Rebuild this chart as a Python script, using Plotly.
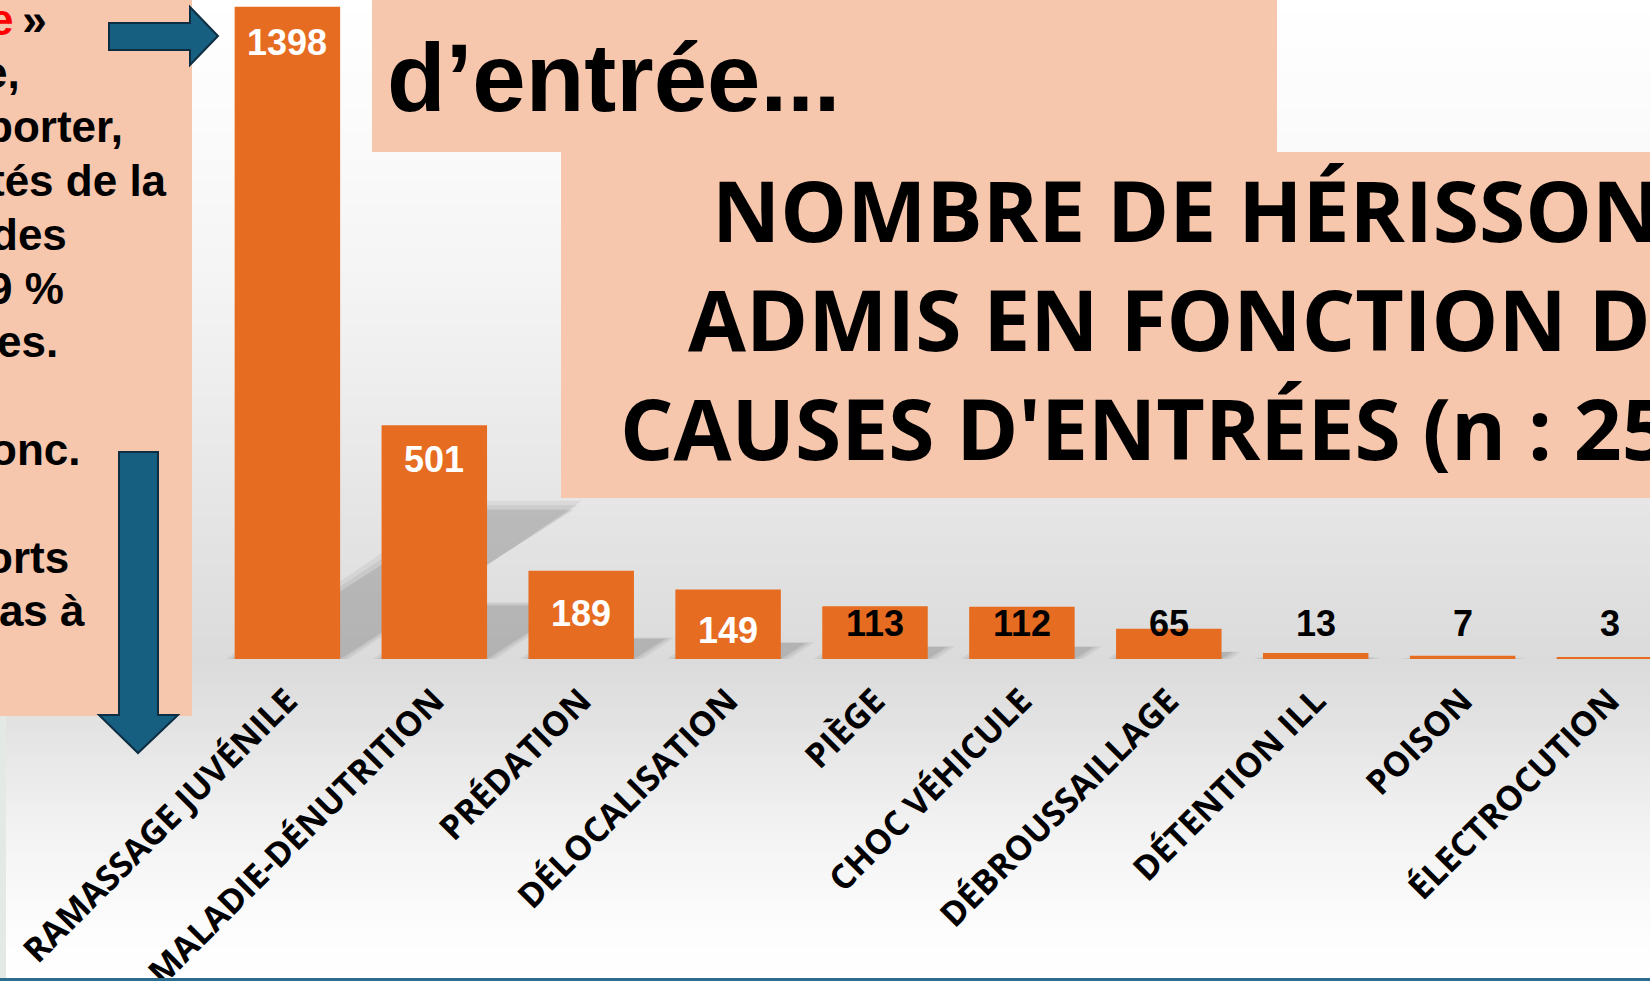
import plotly.graph_objects as go

# ---------------- data ----------------
categories = ["RAMASSAGE JUVÉNILE", "MALADIE-DÉNUTRITION", "PRÉDATION", "DÉLOCALISATION",
              "PIÈGE", "CHOC VÉHICULE", "DÉBROUSSAILLAGE", "DÉTENTION ILL", "POISON",
              "ÉLECTROCUTION"]
values = [1398, 501, 189, 149, 113, 112, 65, 13, 7, 3]

left_text_lines = ['<span style="color:#FF0000">e</span>\u2009»', "e,", "porter,", "tés de la",
                   "des", "9 %", "es.", "", "onc.", "", "orts", "pas à"]
title_top = "d’entrée..."
title_lines = ["NOMBRE DE HÉRISSONS", "ADMIS EN FONCTION DES",
               "CAUSES D'ENTRÉES (n : {})".format(sum(values))]

# ---------------- styling / geometry ----------------
left_text_x = [-13, -19, -16, -12, -11, -14, -5, 0, -12, 0, -16, -30]
inside_label_shift = [-36, -34, -43, -41]

W, H = 1650, 981
PLOT_H = 659          # plot area from y=0 to baseline (pixels)
PX_PER_CAT = 146.9
FIRST_CENTER = 287.4
Y_MAX = 1412.6


def pxx(x):
    return x / W


def pyy(y):
    return (PLOT_H - y) / PLOT_H


def gray(v):
    v = int(round(v))
    return "rgb({0},{0},{0})".format(v)


shapes = []

# background vertical gradient
stops = [(0, 255), (150, 250), (300, 243), (450, 233), (600, 223), (660, 219),
         (720, 226), (820, 241), (920, 252), (981, 255)]
step = 6
y = 0
while y < H:
    yc = y + step / 2
    for (a, ga), (b, gb) in zip(stops[:-1], stops[1:]):
        if a <= yc <= b:
            g = ga + (gb - ga) * (yc - a) / (b - a)
            break
    shapes.append(dict(type="rect", xref="paper", yref="paper", layer="below",
                       x0=pxx(0), x1=pxx(W), y0=pyy(y), y1=pyy(min(y + step + 1, H)),
                       fillcolor=gray(g), line=dict(width=0)))
    y += step

# bar shadows (perspective, upper right), derived from values
K = 0.229
SHEAR = 1.56
BAR_W = 0.718
for i, v in enumerate(values):
    h = K * v
    s = SHEAR * h * 0.4665 / PX_PER_CAT
    x0, x1 = i - BAR_W / 2, i + BAR_W / 2
    for grow, op in [(0.06, 0.07), (0.03, 0.08), (0.0, 0.12)]:
        path = "M {a},0 L {b},0 L {c},{t} L {d},{t} Z".format(
            a=x0 - grow, b=x1 + grow, c=x1 + s + grow, d=x0 + s - grow, t=h * (1 + grow))
        shapes.append(dict(type="path", xref="x", yref="y", layer="below", path=path,
                           fillcolor="rgba(60,60,60,{})".format(op), line=dict(width=0)))

SALMON = "#F6C6AD"
# left text box
shapes.append(dict(type="rect", xref="paper", yref="paper", layer="above",
                   x0=pxx(0), x1=pxx(192), y0=pyy(0), y1=pyy(716),
                   fillcolor=SALMON, line=dict(width=0)))
# left thin strip below box
shapes.append(dict(type="rect", xref="paper", yref="paper", layer="above",
                   x0=pxx(0), x1=pxx(6), y0=pyy(716), y1=pyy(978),
                   fillcolor="#E4E9E5", line=dict(width=0)))
# title boxes
shapes.append(dict(type="rect", xref="paper", yref="paper", layer="above",
                   x0=pxx(372), x1=pxx(1277), y0=pyy(0), y1=pyy(152),
                   fillcolor=SALMON, line=dict(width=0)))
shapes.append(dict(type="rect", xref="paper", yref="paper", layer="above",
                   x0=pxx(561), x1=pxx(W + 5), y0=pyy(152), y1=pyy(498),
                   fillcolor=SALMON, line=dict(width=0)))


def path_px(pts):
    return "M " + " L ".join("{:.5f},{:.5f}".format(pxx(a), pyy(b)) for a, b in pts) + " Z"


ARROW_FILL = "#175F80"
ARROW_LINE = "#0D2E42"
# right arrow
shapes.append(dict(type="path", xref="paper", yref="paper", layer="above",
                   path=path_px([(109, 23), (190, 23), (190, 7), (218, 36), (190, 65),
                                 (190, 50), (109, 50)]),
                   fillcolor=ARROW_FILL, line=dict(color=ARROW_LINE, width=2)))
# down arrow
shapes.append(dict(type="path", xref="paper", yref="paper", layer="above",
                   path=path_px([(119, 452), (158, 452), (158, 715), (178, 715), (138, 753),
                                 (99, 715), (119, 715)]),
                   fillcolor=ARROW_FILL, line=dict(color=ARROW_LINE, width=2)))
# bottom line
shapes.append(dict(type="rect", xref="paper", yref="paper", layer="above",
                   x0=pxx(0), x1=pxx(W), y0=pyy(978), y1=pyy(H + 2),
                   fillcolor="#2D6D8F", line=dict(width=0)))

annotations = []

# left text
LF = 44
for k, (txt, x) in enumerate(zip(left_text_lines, left_text_x)):
    if not txt:
        continue
    base = 35 + k * 53.8
    annotations.append(dict(xref="paper", yref="paper", x=pxx(x), y=pyy(base - 0.36 * LF),
                            xanchor="left", yanchor="middle", showarrow=False, text=txt,
                            font=dict(family="Liberation Sans", size=LF, color="black",
                                      weight="bold")))

# title texts
TF = 96
annotations.append(dict(xref="paper", yref="paper", x=pxx(385), y=pyy(112 - 0.36 * TF),
                        xanchor="left", yanchor="middle", showarrow=False, text=title_top,
                        font=dict(family="Liberation Sans", size=TF, color="black",
                                  weight="bold")))
T2 = 84
for txt, x, base in zip(title_lines, [710, 686, 618], [240, 349, 458]):
    annotations.append(dict(xref="paper", yref="paper", x=pxx(x), y=pyy(base - 0.36 * T2),
                            xanchor="left", yanchor="middle", showarrow=False, text=txt,
                            font=dict(family="Open Sans", size=T2, color="black",
                                      weight="bold")))

# value labels
LABEL_LEVEL = 76
for i, v in enumerate(values):
    inside = i < len(inside_label_shift)
    annotations.append(dict(xref="x", yref="y", x=i, y=v if inside else LABEL_LEVEL,
                            yshift=inside_label_shift[i] if inside else 0,
                            xanchor="center", yanchor="middle",
                            showarrow=False, text=str(v),
                            font=dict(family="Liberation Sans", size=36,
                                      color="white" if inside else "black", weight="bold")))

fig = go.Figure(go.Bar(x=list(range(len(values))), y=values, width=BAR_W,
                       marker=dict(color="#E66C22", line=dict(width=0)),
                       hoverinfo="skip"))

fig.update_layout(
    template="none",
    width=W, height=H, autosize=False,
    margin=dict(l=0, r=0, t=0, b=H - PLOT_H, pad=0),
    paper_bgcolor="white", plot_bgcolor="rgba(0,0,0,0)",
    showlegend=False,
    shapes=shapes, annotations=annotations,
    xaxis=dict(range=[-FIRST_CENTER / PX_PER_CAT, (W - FIRST_CENTER) / PX_PER_CAT],
               tickvals=list(range(len(categories))), ticktext=categories,
               tickangle=-45, ticks="", showline=False, showgrid=False, zeroline=False,
               automargin=False, ticklabelstandoff=14,
               tickfont=dict(family="Open Sans", size=34, color="black", weight="bold")),
    yaxis=dict(range=[0, Y_MAX], visible=False, showgrid=False, zeroline=False,
               automargin=False),
)

fig.write_html("out.html", config={"displayModeBar": False},
               post_script="document.body.style.margin='0px';"
                           "document.body.style.overflow='hidden';")
